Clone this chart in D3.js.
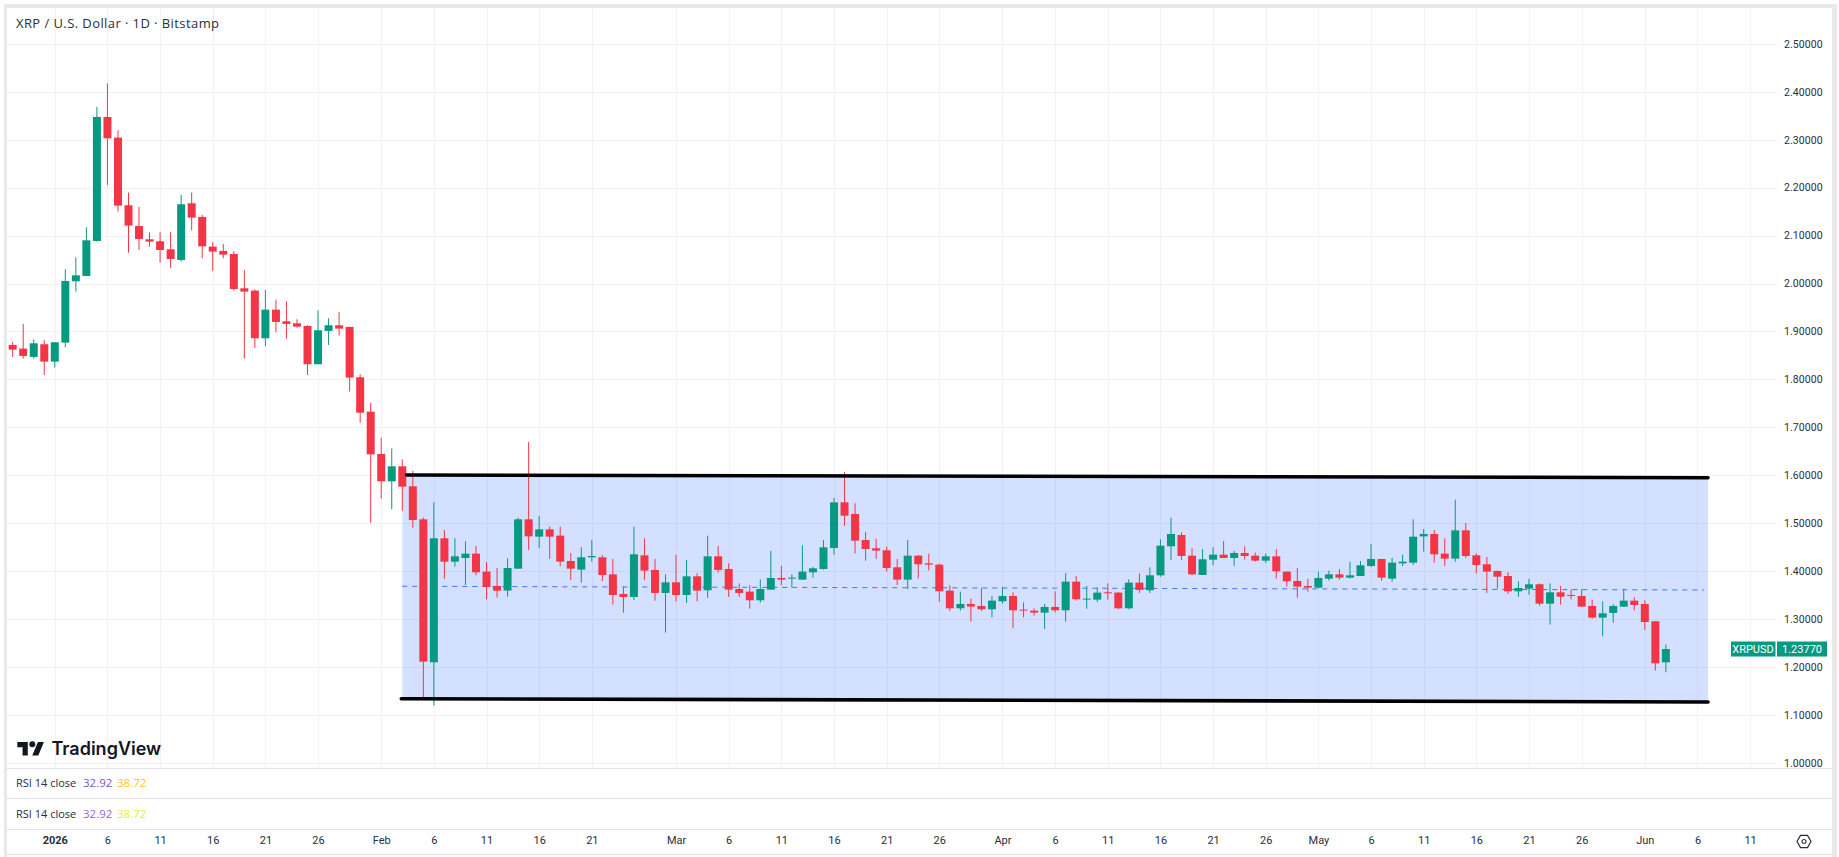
<!DOCTYPE html>
<html>
<head>
<meta charset="utf-8">
<title>XRP / U.S. Dollar</title>
<script src="https://cdn.jsdelivr.net/npm/d3@7"></script>
<style>
  html, body { margin: 0; padding: 0; background: #fff; }
  svg { display: block; }
  text { font-family: "Open Sans", Roboto, sans-serif; fill: #2a2e39; }
</style>
</head>
<body>
<svg id="chart" width="1839" height="857"></svg>
<script>
// Daily XRP/USD session values, one entry per day from the first session on.
const firstSession = "2025-12-28";
const opens = [1.8719,1.8642,1.8469,1.8733,1.8371,1.8767,2.0046,2.0157,2.0887,2.3473,2.3042,2.1631,2.1200,2.0922,2.0880,2.0713,2.0491,2.1673,2.1388,2.0769,2.0679,2.0616,1.9900,1.9852,1.8858,1.9455,1.9212,1.9170,1.9115,1.8316,1.9011,1.9129,1.9094,1.8045,1.7327,1.6444,1.5874,1.6187,1.5770,1.5082,1.2100,1.4686,1.4199,1.4276,1.4366,1.3991,1.3692,1.3595,1.4053,1.5082,1.4720,1.4873,1.4741,1.4213,1.4032,1.4290,1.4290,1.3935,1.3525,1.3463,1.4331,1.4026,1.3546,1.3768,1.3504,1.3893,1.3602,1.4310,1.4046,1.3629,1.3574,1.3393,1.3615,1.3859,1.3845,1.3824,1.3977,1.4046,1.4484,1.5436,1.5193,1.4651,1.4477,1.4436,1.4081,1.3824,1.4324,1.4164,1.4137,1.3595,1.3226,1.3317,1.3275,1.3205,1.3372,1.3483,1.3198,1.3178,1.3136,1.3254,1.3185,1.3782,1.3407,1.3407,1.3560,1.3553,1.3226,1.3761,1.3602,1.3914,1.4519,1.4755,1.4324,1.3921,1.4241,1.4345,1.4276,1.4380,1.4324,1.4220,1.4310,1.3991,1.3796,1.3692,1.3657,1.3845,1.3935,1.3866,1.3900,1.4109,1.4255,1.3845,1.4164,1.4178,1.4727,1.4776,1.4366,1.4262,1.4852,1.4331,1.4144,1.4005,1.3900,1.3581,1.3636,1.3727,1.3323,1.3560,1.3504,1.3483,1.3275,1.3032,1.3129,1.3261,1.3386,1.3317,1.2955,1.2100];
const highs = [1.8781,1.9157,1.8837,1.8823,1.8774,2.0296,2.0547,2.1172,2.3681,2.4174,2.3195,2.1895,2.1596,2.1068,2.1068,2.1068,2.1846,2.1895,2.1429,2.0866,2.0825,2.0672,2.0282,1.9879,1.9865,1.9664,1.9629,1.9254,1.9129,1.9441,1.9275,1.9407,1.9101,1.8107,1.7514,1.6785,1.6562,1.6333,1.6090,1.5117,1.5436,1.4860,1.4686,1.4623,1.4526,1.4192,1.4067,1.4269,1.5117,1.6694,1.5151,1.4929,1.4929,1.4380,1.4498,1.4651,1.4338,1.4255,1.3671,1.4929,1.4686,1.4255,1.3935,1.4338,1.4234,1.3956,1.4741,1.4526,1.4165,1.3747,1.3706,1.3831,1.4422,1.4109,1.3935,1.4540,1.4088,1.4651,1.5527,1.6069,1.5416,1.4818,1.4672,1.4512,1.4255,1.4651,1.4338,1.4366,1.4158,1.3706,1.3574,1.3428,1.3650,1.3483,1.3671,1.3560,1.3351,1.3226,1.3317,1.3581,1.3956,1.3900,1.3692,1.3664,1.3747,1.3567,1.3831,1.3956,1.4081,1.4665,1.5117,1.4811,1.4477,1.4463,1.4498,1.4630,1.4422,1.4519,1.4387,1.4366,1.4463,1.3991,1.4067,1.3838,1.3991,1.4012,1.4046,1.4199,1.4213,1.4568,1.4255,1.4276,1.4345,1.5082,1.4880,1.4860,1.4686,1.5492,1.5005,1.4373,1.4297,1.4012,1.3977,1.3789,1.3838,1.3747,1.3747,1.3692,1.3622,1.3622,1.3407,1.3372,1.3310,1.3622,1.3456,1.3393,1.2955,1.2469];
const lows = [1.8469,1.8434,1.8434,1.8093,1.8246,1.8670,1.9831,2.0157,2.0873,2.2055,2.1499,2.0644,2.0699,2.0769,2.0435,2.0324,2.0456,2.1109,2.0526,2.0262,2.0526,1.9852,1.8434,1.8656,1.8691,1.8990,1.8851,1.9080,1.8093,1.8316,1.8719,1.8913,1.7746,1.7097,1.5012,1.5513,1.5290,1.5263,1.4908,1.1350,1.1197,1.3838,1.4095,1.3713,1.3914,1.3414,1.3449,1.3470,1.4053,1.4443,1.4484,1.4255,1.4102,1.3817,1.3761,1.4199,1.3796,1.3303,1.3136,1.3400,1.3817,1.3386,1.2719,1.3372,1.3337,1.3372,1.3442,1.3970,1.3463,1.3463,1.3219,1.3344,1.3615,1.3713,1.3657,1.3824,1.3866,1.4032,1.4345,1.4943,1.4373,1.4220,1.4255,1.3991,1.3713,1.3622,1.3845,1.4012,1.3358,1.3171,1.3178,1.2948,1.3171,1.3039,1.3323,1.2809,1.3039,1.3073,1.2795,1.3143,1.2948,1.3386,1.3219,1.3358,1.3407,1.3205,1.3205,1.3546,1.3546,1.3886,1.4234,1.4234,1.3914,1.3921,1.4123,1.4276,1.4109,1.4241,1.4199,1.4172,1.3845,1.3678,1.3449,1.3574,1.3636,1.3803,1.3824,1.3845,1.3900,1.4088,1.3803,1.3782,1.4109,1.4130,1.4408,1.4178,1.4109,1.4199,1.4276,1.3956,1.3546,1.3636,1.3525,1.3469,1.3511,1.3282,1.2886,1.3303,1.3414,1.3254,1.3011,1.2642,1.2927,1.3254,1.3185,1.2775,1.1927,1.1892];
const closes = [1.8621,1.8489,1.8753,1.8371,1.8774,2.0053,2.0171,2.0901,2.3473,2.3028,2.1624,2.1207,2.0929,2.0873,2.0699,2.0512,2.1652,2.1374,2.0776,2.0665,2.0602,1.9886,1.9831,1.8858,1.9455,1.9198,1.9157,1.9101,1.8316,1.9025,1.9129,1.9059,1.8038,1.7306,1.6437,1.5874,1.6187,1.5763,1.5068,1.2114,1.4686,1.4199,1.4310,1.4366,1.3977,1.3671,1.3595,1.4067,1.5082,1.4727,1.4873,1.4720,1.4199,1.4053,1.4290,1.4317,1.3921,1.3504,1.3463,1.4352,1.4012,1.3546,1.3768,1.3504,1.3893,1.3595,1.4310,1.4026,1.3616,1.3546,1.3393,1.3629,1.3859,1.3824,1.3866,1.3991,1.4060,1.4498,1.5436,1.5158,1.4637,1.4463,1.4429,1.4067,1.3824,1.4324,1.4144,1.4137,1.3581,1.3226,1.3317,1.3261,1.3205,1.3386,1.3483,1.3185,1.3178,1.3136,1.3254,1.3185,1.3782,1.3414,1.3428,1.3553,1.3546,1.3226,1.3761,1.3609,1.3914,1.4533,1.4776,1.4317,1.3935,1.4248,1.4345,1.4276,1.4380,1.4317,1.4220,1.4310,1.3998,1.3789,1.3678,1.3657,1.3859,1.3935,1.3866,1.3914,1.4123,1.4255,1.3866,1.4178,1.4199,1.4720,1.4776,1.4352,1.4262,1.4852,1.4317,1.4130,1.3991,1.3886,1.3581,1.3650,1.3727,1.3323,1.3560,1.3469,1.3490,1.3261,1.3032,1.3122,1.3275,1.3386,1.3296,1.2941,1.2079,1.2377];

// Axis labelling.
const priceTicks = [1.0,1.1,1.2,1.3,1.4,1.5,1.6,1.7,1.8,1.9,2.0,2.1,2.2,2.3,2.4,2.5];
const timeTickDates = ["2026-01-01","2026-01-06","2026-01-11","2026-01-16","2026-01-21","2026-01-26","2026-02-01","2026-02-06","2026-02-11","2026-02-16","2026-02-21","2026-03-01","2026-03-06","2026-03-11","2026-03-16","2026-03-21","2026-03-26","2026-04-01","2026-04-06","2026-04-11","2026-04-16","2026-04-21","2026-04-26","2026-05-01","2026-05-06","2026-05-11","2026-05-16","2026-05-21","2026-05-26","2026-06-01","2026-06-06","2026-06-11"];
const timeTickLabels = ["2026","6","11","16","21","26","Feb","6","11","16","21","Mar","6","11","16","21","26","Apr","6","11","16","21","26","May","6","11","16","21","26","Jun","6","11"];

// Range channel drawn over the consolidation, as date / price anchors.
const channelDates = ["2026-02-03","2026-06-07"];
const channelTop = [1.6006,1.5950];
const channelMid = [1.3685,1.3608];
const channelBottom = [1.1341,1.1272];

const legendRows = [["32.92","38.72"],["32.92","38.72"]];

const GREEN = "#089981", RED = "#f23645";
const day = s => d3.utcParse("%Y-%m-%d")(s);

const svg = d3.select("#chart");
const x = d3.scaleUtc().domain([day(firstSession), day(channelDates[1])]).range([12.67, 1708]);
const y = d3.scaleLinear().domain([1, 2.5]).range([763, 43.75]);
const sessions = opens.map((_, i) => d3.utcDay.offset(day(firstSession), i));
const pane = { left: 7, right: 1776, top: 8, bottom: 768, edge: 1832 };

// Window frame.
svg.append("rect").attr("x", 4).attr("y", 4).attr("width", 1833).attr("height", 4).attr("fill", "#e9e9e9");
svg.append("rect").attr("x", 4).attr("y", 4).attr("width", 3).attr("height", 853).attr("fill", "#e9e9e9");
svg.append("rect").attr("x", 1832).attr("y", 4).attr("width", 5).attr("height", 853).attr("fill", "#e9e9e9");

// Grid.
const grid = svg.append("g").attr("stroke", "#f1f2f4").attr("stroke-width", 1);
grid.selectAll("line.h").data(priceTicks).join("line").attr("class", "h")
  .attr("x1", pane.left).attr("x2", pane.right)
  .attr("y1", d => Math.round(y(d)) + 0.5).attr("y2", d => Math.round(y(d)) + 0.5);
grid.selectAll("line.v").data(timeTickDates).join("line").attr("class", "v")
  .attr("y1", pane.top).attr("y2", pane.bottom)
  .attr("x1", d => Math.round(x(day(d))) + 0.5).attr("x2", d => Math.round(x(day(d))) + 0.5);

// Channel fill and its dashed centre line sit beneath the candles.
const cx = channelDates.map(d => x(day(d)));
svg.append("path")
  .attr("d", `M${cx[0]},${y(channelTop[0])}L${cx[1]},${y(channelTop[1])}L${cx[1]},${y(channelBottom[1])}L${cx[0]},${y(channelBottom[0])}Z`)
  .attr("fill", "#2962ff").attr("fill-opacity", 0.2);
svg.append("line")
  .attr("x1", cx[0]).attr("y1", y(channelMid[0])).attr("x2", cx[1] - 4).attr("y2", y(channelMid[1]))
  .attr("stroke", "#2962ff").attr("stroke-width", 1).attr("stroke-dasharray", "5 5").attr("opacity", 0.85);

// Candles.
const candle = svg.append("g").selectAll("g").data(sessions).join("g")
  .attr("fill", (d, i) => closes[i] >= opens[i] ? GREEN : RED)
  .attr("stroke", (d, i) => closes[i] >= opens[i] ? GREEN : RED);
candle.append("line").attr("stroke-width", 1)
  .attr("x1", d => x(d)).attr("x2", d => x(d))
  .attr("y1", (d, i) => y(highs[i])).attr("y2", (d, i) => y(lows[i]));
candle.append("rect").attr("stroke", "none")
  .attr("x", d => x(d) - 4).attr("width", 8)
  .attr("y", (d, i) => y(Math.max(opens[i], closes[i])))
  .attr("height", (d, i) => Math.max(1, Math.abs(y(opens[i]) - y(closes[i]))));

// Heavy channel boundaries on top of the candles.
svg.append("line")
  .attr("x1", x(d3.utcHour.offset(day(channelDates[0]), 10))).attr("y1", y(channelTop[0]))
  .attr("x2", cx[1]).attr("y2", y(channelTop[1]))
  .attr("stroke", "#000").attr("stroke-width", 3.6).attr("stroke-linecap", "round");
svg.append("line")
  .attr("x1", cx[0] - 1).attr("y1", y(channelBottom[0])).attr("x2", cx[1]).attr("y2", y(channelBottom[1]))
  .attr("stroke", "#000").attr("stroke-width", 3.6).attr("stroke-linecap", "round");

// Price axis.
const priceAxis = svg.append("g").attr("transform", `translate(${pane.right},0)`)
  .call(d3.axisRight(y).tickValues(priceTicks).tickFormat(d3.format(".5f")).tickSize(0).tickPadding(8));
priceAxis.select(".domain").remove();
priceAxis.selectAll("text").attr("font-size", 10.5).attr("font-family", "Roboto").style("font-family", "Roboto").attr("fill", "#2a2e39").style("letter-spacing", "0.1px");

// Time axis.
const timeAxis = svg.append("g").attr("transform", "translate(0,829.5)")
  .call(d3.axisBottom(x).tickValues(timeTickDates.map(day))
    .tickFormat((d, i) => timeTickLabels[i]).tickSize(0).tickPadding(7));
timeAxis.select(".domain").remove();
timeAxis.selectAll("text").attr("font-size", 11).attr("font-family", "Roboto").style("font-family", "Roboto").attr("fill", "#2a2e39")
  .attr("font-weight", (d, i) => i === 0 ? 700 : 400);

// Pane separators.
svg.append("g").attr("stroke", "#e0e3eb").selectAll("line").data([768.5, 798.5, 829.5, 854.5]).join("line")
  .attr("x1", pane.left).attr("x2", pane.edge).attr("y1", d => d).attr("y2", d => d);

// Last price tag.
const lastY = y(closes[closes.length - 1]);
svg.append("rect").attr("x", 1731).attr("y", lastY - 7.5).attr("width", 44.5).attr("height", 15).attr("fill", GREEN);
svg.append("rect").attr("x", 1777).attr("y", lastY - 7.5).attr("width", 50).attr("height", 15).attr("fill", GREEN);
svg.append("text").attr("x", 1753).attr("y", lastY + 4).attr("text-anchor", "middle").attr("font-size", 11)
  .style("font-family", "Roboto").style("fill", "#fff").text("XRPUSD");
svg.append("text").attr("x", 1802).attr("y", lastY + 4).attr("text-anchor", "middle").attr("font-size", 11)
  .style("font-family", "Roboto").style("fill", "#fff").text(d3.format(".5f")(closes[closes.length - 1]));

// Title.
svg.append("text").attr("x", 16).attr("y", 27.5).attr("font-size", 13).style("letter-spacing", "0.42px")
  .text("XRP / U.S. Dollar · 1D · Bitstamp");

// Indicator legends.
const rsiColors = [["#7e57c2", "#ffc525"], ["#a25fd6", "#e8f02c"]];
legendRows.forEach((vals, r) => {
  const base = 787 + r * 31;
  svg.append("text").attr("x", 16).attr("y", base).attr("font-size", 11).text("RSI 14 close");
  svg.append("text").attr("x", 83).attr("y", base).attr("font-size", 11.5).style("fill", rsiColors[r][0]).text(vals[0]);
  svg.append("text").attr("x", 117).attr("y", base).attr("font-size", 11.5).style("fill", rsiColors[r][1]).text(vals[1]);
});

// Wordmark.
const logo = svg.append("g").attr("transform", "translate(17.3,739) scale(0.75)").attr("fill", "#131722");
logo.append("path").attr("d", "M14 22H7V11H0V4h14v18zM28 22h-8l7.5-18h8L28 22z");
logo.append("circle").attr("cx", 20).attr("cy", 7).attr("r", 4);
svg.append("text").attr("x", 51.5).attr("y", 755).attr("font-size", 18)
  .attr("font-weight", 600).style("font-family", "Inter").style("fill", "#131722").text("TradingView");

// Settings glyph in the axis corner.
const gear = svg.append("g").attr("transform", "translate(1804,841.5)").attr("fill", "none").attr("stroke", "#2a2e39").attr("stroke-width", 1.2);
gear.append("path").attr("d", d3.range(6).map(k => {
  const a = Math.PI / 3 * k;
  return (k ? "L" : "M") + (7 * Math.cos(a)).toFixed(2) + "," + (7 * Math.sin(a)).toFixed(2);
}).join("") + "Z");
gear.append("circle").attr("r", 2);
</script>
</body>
</html>
